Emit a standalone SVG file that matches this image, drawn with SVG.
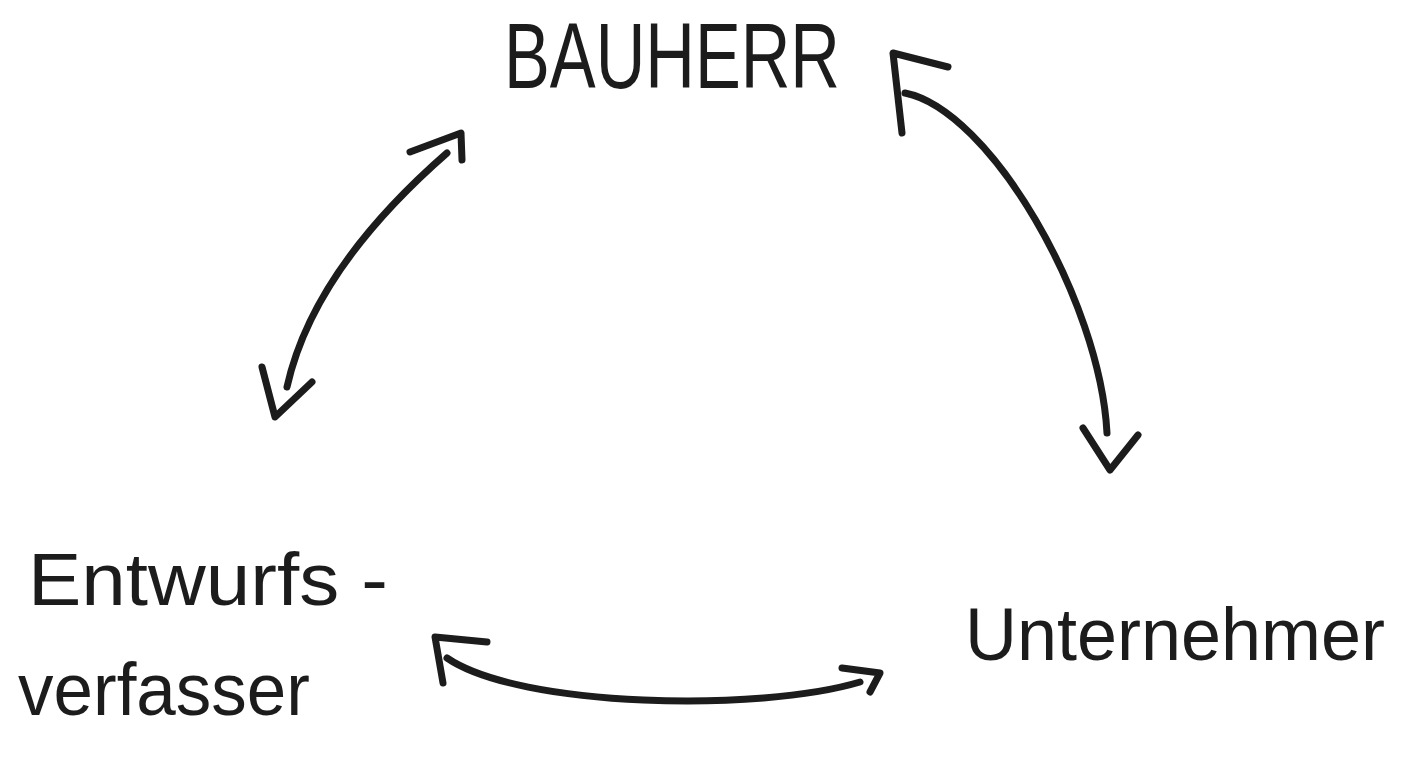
<svg xmlns="http://www.w3.org/2000/svg" width="1404" height="774" viewBox="0 0 1404 774">
<style>
.lbl{font-family:"Liberation Sans","DejaVu Sans",sans-serif;fill:#1c1c1c}
.ln{fill:none;stroke:#1c1c1c;stroke-width:7;stroke-linecap:round;stroke-linejoin:round}
</style>
<rect width="1404" height="774" fill="#ffffff"/>
<g id="bauherr">
<text class="lbl" x="504" y="88" font-size="92" textLength="336" lengthAdjust="spacingAndGlyphs">BAUHERR</text>
</g>
<g id="entwurfsverfasser">
<text class="lbl" x="28" y="605" font-size="75" textLength="360" lengthAdjust="spacingAndGlyphs">Entwurfs -</text>
<text class="lbl" x="18" y="715" font-size="75" textLength="292" lengthAdjust="spacingAndGlyphs">verfasser</text>
</g>
<g id="unternehmer">
<text class="lbl" x="965" y="660" font-size="74" textLength="420" lengthAdjust="spacingAndGlyphs">Unternehmer</text>
</g>
<g id="connectors">
<path class="ln" d="M287,387 Q313,270 447,153"/>
<path class="ln" d="M410,152 L461,133 L462,160"/>
<path class="ln" d="M262,367 L275,417 L312,382"/>
<path class="ln" d="M905,93 C990,110 1100,300 1107,433"/>
<path class="ln" d="M948,67 L893,53 L902,133"/>
<path class="ln" d="M1083,428 L1110,470 L1138,435"/>
<path class="ln" d="M447,658 C520,708 760,712 860,682"/>
<path class="ln" d="M487,642 L435,637 L443,683"/>
<path class="ln" d="M842,668 L880,673 L870,692"/>
</g>
</svg>
